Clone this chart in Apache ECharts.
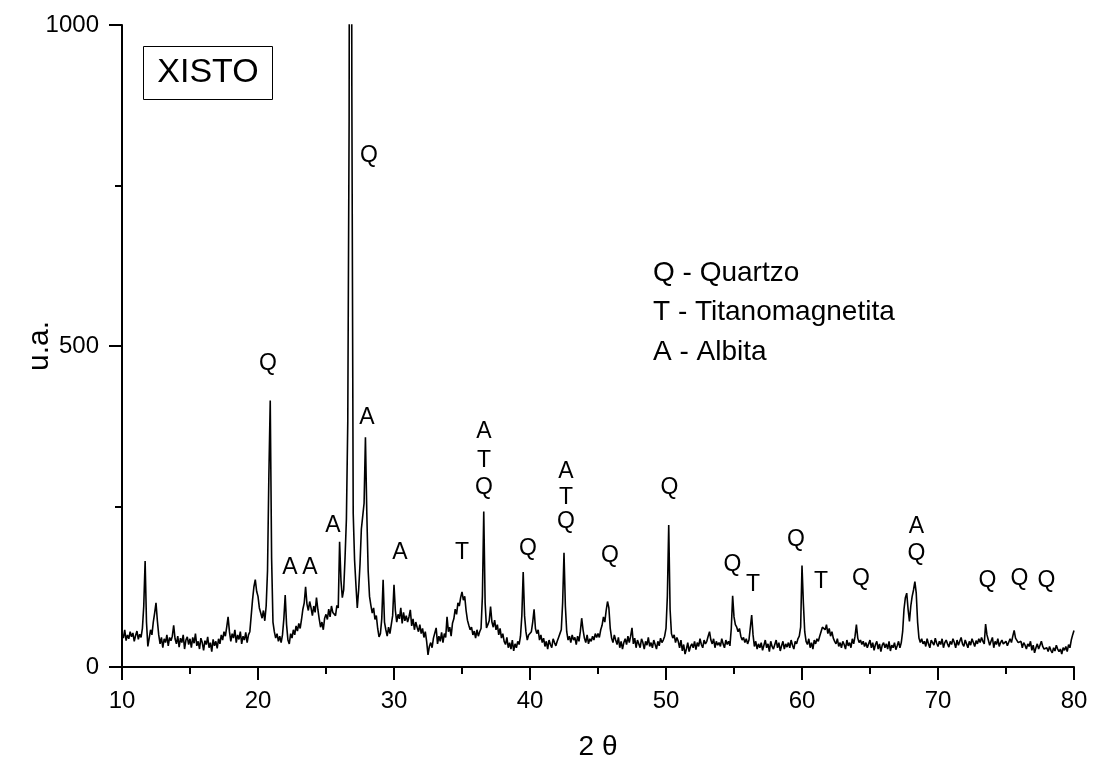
<!DOCTYPE html>
<html>
<head>
<meta charset="utf-8">
<script src="https://cdn.jsdelivr.net/npm/echarts@6/dist/echarts.min.js"></script>
<style>html,body{margin:0;padding:0;background:#fff;}#c{width:1095px;height:770px;}</style>
</head>
<body>
<div id="c"></div>
<script>
// 2-theta grid: start and step of the measured scan
const thetaStart = 10;
const thetaStep = 0.1;

// intensity (u.a.), one row per degree, 10 values per row
const intensity10to30 = [
  52,45,58,41,50,44,55,47,53,40,
  49,56,43,51,46,60,95,165,70,32,
  45,58,50,70,84,100,72,50,36,46,
  30,44,38,50,33,46,41,48,65,44,
  36,48,31,45,38,50,28,42,47,35,
  44,30,46,37,52,33,40,28,45,38,
  26,41,35,47,30,38,24,43,33,40,
  29,44,36,50,42,55,48,62,78,55,
  40,52,45,58,38,50,43,55,36,48,
  42,54,38,50,55,80,105,125,136,118,
  110,92,84,76,88,72,95,150,300,415,
  170,70,55,45,52,40,48,38,50,75,
  112,66,42,36,52,45,58,50,64,56,
  68,60,74,90,100,125,98,88,102,92,
  80,95,85,108,90,75,62,70,58,76,
  82,74,90,78,95,85,88,80,96,92,
  195,135,108,120,170,230,380,850,2500,900,
  240,167,128,92,120,160,215,235,255,358,
  240,150,110,96,84,92,74,80,60,47,
  52,75,136,70,58,48,62,52,66,80
];
const intensity30to50 = [
  128,88,70,82,75,92,68,85,72,80,
  70,78,89,64,75,58,70,62,55,66,
  52,60,46,55,40,19,32,38,30,45,
  42,61,36,48,40,54,38,52,46,78,
  55,62,48,68,75,90,82,100,95,108,
  117,104,110,88,73,65,58,62,50,56,
  45,58,48,55,60,110,242,100,61,66,
  72,94,70,62,73,58,66,50,60,45,
  52,40,35,46,30,38,28,42,25,36,
  30,40,35,48,80,148,80,55,42,50,
  48,55,70,90,60,52,58,42,50,38,
  45,32,40,28,42,35,30,44,38,33,
  40,46,52,58,100,178,95,55,42,48,
  38,50,42,46,35,48,40,55,76,58,
  45,38,50,36,44,40,48,42,52,46,
  52,46,58,65,78,70,88,102,92,60,
  45,38,50,42,35,46,30,40,28,38,
  44,35,48,38,48,61,36,45,30,42,
  36,30,44,38,28,40,34,46,32,38,
  30,42,35,28,40,33,45,38,42,48
];
const intensity50to80 = [
  60,110,221,90,52,45,50,38,46,40,
  30,42,25,35,20,28,38,24,32,36,
  30,40,27,38,32,44,35,30,42,36,
  40,48,55,42,36,44,30,40,34,38,
  32,44,36,30,42,35,40,33,60,111,
  78,66,62,55,60,48,42,46,38,44,
  36,42,45,81,50,32,40,28,36,30,
  38,26,34,42,30,36,24,40,32,28,
  35,42,30,38,25,33,40,28,36,31,
  38,30,42,34,28,40,36,44,48,62,
  158,100,55,40,35,44,30,38,28,42,
  36,44,40,48,55,62,65,58,66,52,
  60,48,55,45,40,36,44,32,38,30,
  40,35,28,42,33,38,30,44,36,48,
  66,45,38,42,35,40,32,38,30,36,
  42,30,38,26,35,40,28,36,24,34,
  38,30,36,28,40,25,34,30,38,27,
  33,40,30,38,55,90,108,115,90,71,
  95,110,120,133,115,70,45,38,44,36,
  40,32,44,36,30,42,38,34,45,37,
  32,40,35,44,30,38,42,36,31,40,
  35,44,38,30,42,34,40,46,36,32,
  42,36,30,40,34,44,38,32,41,36,
  44,38,46,40,36,67,50,42,34,40,
  46,30,40,35,44,32,38,42,36,34,
  40,33,36,44,38,48,57,45,42,38,
  36,40,30,38,34,28,36,32,40,26,
  34,22,30,36,28,34,40,32,28,26,
  30,24,32,26,22,30,25,34,28,24,
  28,20,30,26,32,24,35,30,42,50,
  57
];

// phase marks: [2theta, intensity position, letter]
const peakLabels = [
  [20.74,473,'Q'], [28.16,797,'Q'], [28.01,388,'A'], [25.51,220,'A'],
  [22.35,154,'A'], [23.82,154,'A'], [30.44,178,'A'], [35.0,178,'T'],
  [36.62,366,'A'], [36.62,322,'T'], [36.62,280,'Q'], [39.85,184,'Q'],
  [42.65,305,'A'], [42.65,263,'T'], [42.65,226,'Q'], [45.88,174,'Q'],
  [50.26,280,'Q'], [54.89,160,'Q'], [56.40,128,'T'], [59.56,199,'Q'],
  [61.40,133,'T'], [64.34,137,'Q'], [68.42,218,'A'], [68.42,176,'Q'],
  [73.64,134,'Q'], [75.99,137,'Q'], [77.98,134,'Q']
];

const legendLines = ['Q - Quartzo', 'T - Titanomagnetita', 'A - Albita'];
const sampleName = 'XISTO';
const xTicks = {min: 10, max: 80, interval: 10};
const yTicks = {min: 0, max: 1000, interval: 500};

const intensity = intensity10to30.concat(intensity30to50, intensity50to80);
const pattern = intensity.map((v, i) => [+(thetaStart + i * thetaStep).toFixed(1), v]);

const FONT = "'Liberation Sans', Arial, Helvetica, sans-serif";
const chart = echarts.init(document.getElementById('c'), null, {renderer: 'canvas'});

const axisCommon = {
  axisLine: {show: true, onZero: false, lineStyle: {color: '#000', width: 2}},
  axisTick: {show: true, inside: false, length: 13, lineStyle: {color: '#000', width: 2}},
  minorTick: {show: true, splitNumber: 2, length: 7, lineStyle: {color: '#000', width: 2}},
  splitLine: {show: false},
  minorSplitLine: {show: false}
};

chart.setOption({
  animation: false,
  backgroundColor: '#fff',
  grid: {left: 122, right: 21, top: 25, bottom: 103, containLabel: false, outerBoundsMode: 'none'},
  xAxis: Object.assign({
    type: 'value', min: xTicks.min, max: xTicks.max, interval: xTicks.interval,
    name: '2 θ', nameLocation: 'middle', nameGap: 66, nameMoveOverlap: false,
    nameTextStyle: {fontFamily: FONT, fontSize: 28, color: '#000'},
    axisLabel: {fontFamily: FONT, fontSize: 24, color: '#000', margin: 22, formatter: v => String(v)}
  }, axisCommon),
  yAxis: Object.assign({
    type: 'value', min: yTicks.min, max: yTicks.max, interval: yTicks.interval,
    name: 'u.a.', nameLocation: 'middle', nameGap: 67, nameRotate: 90, nameMoveOverlap: false,
    nameTextStyle: {fontFamily: FONT, fontSize: 30, color: '#000'},
    axisLabel: {fontFamily: FONT, fontSize: 24, color: '#000', margin: 23, formatter: v => String(v)}
  }, axisCommon),
  series: [
    {
      type: 'line', data: pattern, showSymbol: false, symbol: 'none',
      clip: true, smooth: false,
      lineStyle: {color: '#000', width: 1.6},
      z: 2
    },
    {
      type: 'scatter', data: peakLabels, symbolSize: 0.1,
      itemStyle: {color: '#fff', opacity: 0},
      label: {
        show: true, position: 'inside', formatter: p => p.value[2],
        fontFamily: FONT, fontSize: 23, color: '#000', opacity: 1,
        textBorderWidth: 0
      },
      emphasis: {disabled: true},
      z: 3
    }
  ],
  graphic: [
    {type: 'rect', shape: {x: 143.5, y: 46.5, width: 129, height: 53},
     style: {fill: '#fff', stroke: '#000', lineWidth: 1}, z: 10},
    {type: 'text', x: 208, y: 73,
     style: {text: sampleName, fontFamily: FONT, fontSize: 34, fill: '#000', align: 'center', verticalAlign: 'middle'}, z: 11},
    {type: 'text', x: 653, y: 273,
     style: {text: legendLines[0], fontFamily: FONT, fontSize: 28, fill: '#000', align: 'left', verticalAlign: 'middle'}},
    {type: 'text', x: 653, y: 312,
     style: {text: legendLines[1], fontFamily: FONT, fontSize: 28, fill: '#000', align: 'left', verticalAlign: 'middle'}},
    {type: 'text', x: 653, y: 352,
     style: {text: legendLines[2], fontFamily: FONT, fontSize: 28, fill: '#000', align: 'left', verticalAlign: 'middle'}}
  ]
});
</script>
</body>
</html>
